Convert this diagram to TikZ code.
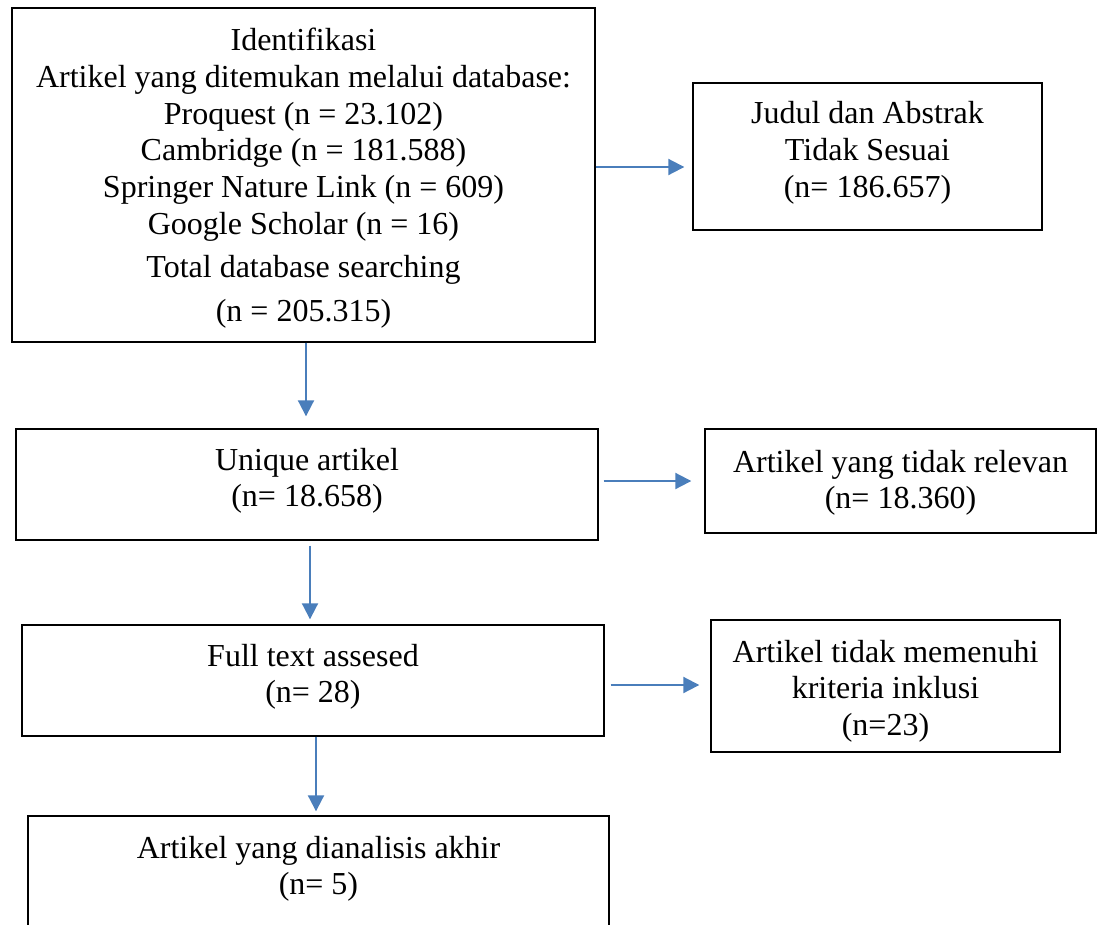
\documentclass[tikz,border=0pt]{standalone}
\usepackage{fontspec}
\setmainfont{Liberation Serif}
\usetikzlibrary{arrows.meta}
\definecolor{arrblue}{RGB}{74,126,187}
\begin{document}
\begin{tikzpicture}[x=1pt,y=-1pt,
  box/.style={draw=black,line width=1.4pt,rectangle,inner sep=0pt,fill=none},
  txt/.style={align=center,inner sep=0pt,anchor=north,font=\fontsize{32}{36.8}\selectfont,execute at begin node=\strut},
  arr/.style={draw=arrblue,line width=2pt,-{Triangle[length=16pt,width=16pt]}}]
\useasboundingbox (0,0) rectangle (1102,924);
\clip (0,0) rectangle (1102,924);
% boxes
\node[box,minimum width=583pt,minimum height=334pt] (top) at (303.5,175) {};
\node[box,minimum width=349pt,minimum height=147pt] (judul) at (867.5,156.5) {};
\node[box,minimum width=582pt,minimum height=111pt] (unique) at (307,484.5) {};
\node[box,minimum width=391pt,minimum height=104pt] (relevan) at (900.5,481) {};
\node[box,minimum width=582pt,minimum height=111pt] (full) at (313,680.5) {};
\node[box,minimum width=349pt,minimum height=132pt] (memenuhi) at (885.5,686) {};
\node[box,minimum width=581pt,minimum height=134pt] (final) at (318.5,883) {};
% texts
\node[txt] (toptxt) at (303.5,27.7) {Identifikasi\\Artikel yang ditemukan melalui database:\\Proquest (n = 23.102)\\Cambridge (n = 181.588)\\Springer Nature Link (n = 609)\\Google Scholar (n = 16)\\[6pt]Total database searching\\[7pt](n = 205.315)};
\node[txt] (judultxt) at (867.5,101) {Judul dan Abstrak\\Tidak Sesuai\\(n= 186.657)};
\node[txt] (uniquetxt) at (307,447.7) {Unique artikel\\(n= 18.658)};
\node[txt] (relevantxt) at (900.5,449.7) {Artikel yang tidak relevan\\(n= 18.360)};
\node[txt] (fulltxt) at (313,643.7) {Full text assesed\\(n= 28)};
\node[txt] (memenuhitxt) at (885.5,639.7) {Artikel tidak memenuhi\\kriteria inklusi\\(n=23)};
\node[txt] (finaltxt) at (318.5,835.7) {Artikel yang dianalisis akhir\\(n= 5)};
% connectors
\draw[arr] ([xshift=2.5pt]top.south) -- ([xshift=-1pt,yshift=12pt]unique.north);
\draw[arr] ([xshift=3pt,yshift=-5pt]unique.south) -- ([xshift=-3pt,yshift=5pt]full.north);
\draw[arr] ([xshift=3pt]full.south) -- ([xshift=-2.5pt,yshift=4pt]final.north);
\draw[arr] ([yshift=8pt]top.east) -- ([xshift=-8pt,yshift=-10.5pt]judul.west);
\draw[arr] ([xshift=5pt,yshift=3.5pt]unique.east) -- ([xshift=-13pt]relevan.west);
\draw[arr] ([xshift=6pt,yshift=-4.5pt]full.east) -- ([xshift=-11pt,yshift=1pt]memenuhi.west);
\end{tikzpicture}
\end{document}
